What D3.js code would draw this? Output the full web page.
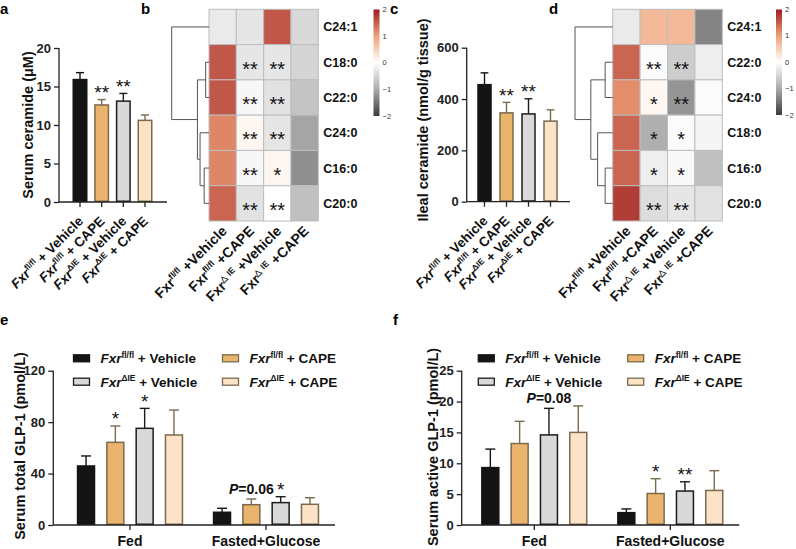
<!DOCTYPE html>
<html><head><meta charset="utf-8">
<script src="https://cdn.jsdelivr.net/npm/d3@7"></script>
<style>body{margin:0;background:#fff} text{font-family:"Liberation Sans",Arial,sans-serif}</style>
</head><body><svg id="chart" width="796" height="549"></svg>
<script>
// ---------- data ----------
const groups = ["Fxr fl/fl + Vehicle","Fxr fl/fl + CAPE","Fxr dIE + Vehicle","Fxr dIE + CAPE"];
const groupSup = ["fl/fl","fl/fl","\u0394IE","\u0394IE"];
const groupSuffix = [" + Vehicle"," + CAPE"," + Vehicle"," + CAPE"];
const heatSup = ["fl/fl","fl/fl","\u25B3 IE","\u25B3 IE"];
const heatSuffix = [" +Vehicle"," +CAPE"," +Vehicle"," +CAPE"];

const serumCeramide = [15.9, 12.6, 13.1, 10.6];
const serumCeramideErr = [16.8, 13.3, 14.1, 11.3];
const serumCeramideSig = ["", "**", "**", ""];
const serumTicks = [0, 5, 10, 15, 20];

const ilealCeramide = [456, 346, 342, 314];
const ilealCeramideErr = [502, 387, 401, 358];
const ilealCeramideSig = ["", "**", "**", ""];
const ilealTicks = [0, 200, 400, 600];

const rowsB = ["C24:1","C18:0","C22:0","C24:0","C16:0","C20:0"];
const heatB = [
  [-0.25, -0.3, 1.55, -0.45],
  [1.55, -0.3, -0.3, -0.5],
  [1.55, -0.1, -0.35, -0.7],
  [1.2, 0.1, -0.3, -1.05],
  [1.2, -0.1, 0.1, -1.25],
  [1.45, -0.35, 0.0, -0.75]
];
const sigB = [
  ["","","",""],
  ["","**","**",""],
  ["","**","**",""],
  ["","**","**",""],
  ["","**","*",""],
  ["","**","**",""]
];
// dendrogram merges: [leftNode, rightNode, height]; leaves are row indices, merges referenced as "m#"
const treeB = [[4, 5, 0.13], [3, "m0", 0.24], [1, 2, 0.09], ["m2", "m1", 0.31], [0, "m3", 1.0]];

const rowsD = ["C24:1","C22:0","C24:0","C18:0","C16:0","C20:0"];
const heatD = [
  [-0.25, 0.75, 0.75, -1.35],
  [1.45, -0.05, -0.6, -0.2],
  [1.15, 0.1, -1.2, -0.05],
  [1.45, -0.95, -0.05, -0.12],
  [1.45, -0.2, -0.08, -0.75],
  [1.75, -0.4, -0.3, -0.35]
];
const sigD = [
  ["","","",""],
  ["","**","**",""],
  ["","*","**",""],
  ["","*","*",""],
  ["","*","*",""],
  ["","**","**",""]
];
const treeD = [[4, 5, 0.2], [3, "m0", 0.4], [1, 2, 0.2], ["m2", "m1", 0.58], [0, "m3", 1.0]];

const colorTicks = [2, 1, 0, -1, -2];

const conditions = ["Fed", "Fasted+Glucose"];
const totalGLP1Fed = [45.9, 64.3, 75.2, 70.0];
const totalGLP1FedErr = [53.7, 77.0, 90.7, 89.4];
const totalGLP1Fasted = [9.9, 15.8, 17.4, 16.1];
const totalGLP1FastedErr = [13.0, 20.2, 22.0, 21.2];
const totalGLP1FedSig = ["", "*", "*", ""];
const totalGLP1FastedSig = ["", "P=0.06", "*", ""];
const totalTicks = [0, 40, 80, 120];

const activeGLP1Fed = [9.3, 13.2, 14.6, 15.0];
const activeGLP1FedErr = [12.3, 16.8, 18.9, 19.3];
const activeGLP1Fasted = [2.0, 5.1, 5.5, 5.6];
const activeGLP1FastedErr = [2.6, 7.5, 7.0, 8.8];
const activeGLP1FedSig = ["", "", "P=0.08", ""];
const activeGLP1FastedSig = ["", "*", "**", ""];
const activeTicks = [0, 5, 10, 15, 20, 25];

// ---------- styles ----------
const fills = ["#141414", "#ebb46d", "#d8d9d8", "#fce3c7"];
const strokes = ["#141414", "#7a6a4e", "#1c1c1c", "#7a6a4e"];
const heatColor = d3.scaleLinear().domain([-2, -1, 0, 1, 2])
  .range(["#3b3b3b", "#ababab", "#ffffff", "#efa177", "#9c1b22"]).interpolate(d3.interpolateRgb);

const svg = d3.select("#chart");
svg.append("rect").attr("width", 796).attr("height", 549).attr("fill", "#fff");

function richLabel(g, x, y, rot, anchor, size, italic, sup, suffix) {
  const t = g.append("text").attr("transform", `translate(${x},${y}) rotate(${rot})`)
    .attr("text-anchor", anchor).attr("font-size", size).attr("font-weight", "bold").attr("fill", "#111");
  t.append("tspan").attr("font-style", italic ? "italic" : "normal").text("Fxr");
  t.append("tspan").attr("font-size", size * 0.62).attr("dy", -size * 0.4).text(sup);
  t.append("tspan").attr("dy", size * 0.4).text(suffix);
  return t;
}

function panelLabel(x, y, s) {
  svg.append("text").attr("x", x).attr("y", y).attr("font-size", 15).attr("font-weight", "bold").text(s);
}

function yAxis(g, scale, xPos, ticks) {
  const ax = g.append("g").attr("transform", `translate(${xPos},0)`)
    .call(d3.axisLeft(scale).tickValues(ticks).tickSize(5).tickPadding(3));
  ax.select(".domain").remove();
  ax.selectAll(".tick line").attr("stroke", "#222").attr("stroke-width", 1.3);
  ax.selectAll(".tick text").attr("font-size", 13).attr("font-weight", "bold").attr("fill", "#222")
    .style("font-family", '"Liberation Sans",Arial,sans-serif');
  g.append("line").attr("x1", xPos).attr("x2", xPos).attr("y1", scale.range()[1]).attr("y2", scale.range()[0])
    .attr("stroke", "#222").attr("stroke-width", 1.3);
}

function yTitle(x, y, s) {
  svg.append("text").attr("transform", `translate(${x},${y}) rotate(-90)`).attr("text-anchor", "middle")
    .attr("font-size", 14.5).attr("font-weight", "bold").attr("fill", "#111").text(s);
}

function drawBars(g, xs, y, bw, vals, errs, sigs) {
  vals.forEach((v, i) => {
    const cx = xs[i];
    g.append("line").attr("x1", cx).attr("x2", cx).attr("y1", y(v)).attr("y2", y(errs[i]))
      .attr("stroke", strokes[i]).attr("stroke-width", 1.4);
    g.append("line").attr("x1", cx - bw * 0.27).attr("x2", cx + bw * 0.27).attr("y1", y(errs[i])).attr("y2", y(errs[i]))
      .attr("stroke", strokes[i]).attr("stroke-width", 1.4);
    g.append("rect").attr("x", cx - bw / 2 + 0.75).attr("y", y(v)).attr("width", bw - 1.5)
      .attr("height", y(0) - y(v) - 0.75).attr("fill", fills[i]).attr("stroke", strokes[i]).attr("stroke-width", 1.5);
    const s = sigs[i];
    if (s) {
      if (s.startsWith("P")) {
        const t = g.append("text").attr("x", cx).attr("y", y(errs[i]) - 5).attr("text-anchor", "middle")
          .attr("font-size", 14).attr("font-weight", "bold").attr("fill", "#111");
        t.append("tspan").attr("font-style", "italic").text("P");
        t.append("tspan").text(s.slice(1));
      } else {
        g.append("text").attr("x", cx).attr("y", y(errs[i]) - 0.5).attr("text-anchor", "middle")
          .attr("font-size", 19).attr("fill", "#111").text(s);
      }
    }
  });
}

// ---------- panel a / c (simple bars) ----------
function simplePanel(cfg) {
  const g = svg.append("g");
  const y = d3.scaleLinear().domain(cfg.domain).range([cfg.y0, cfg.y1]);
  const x = d3.scalePoint().domain(groups).range(cfg.xr);
  const xs = groups.map(d => x(d));
  drawBars(g, xs, y, cfg.bw, cfg.vals, cfg.errs, cfg.sigs);
  yAxis(g, y, cfg.ax, cfg.ticks);
  g.append("line").attr("x1", cfg.ax).attr("x2", cfg.xEnd).attr("y1", cfg.y0).attr("y2", cfg.y0)
    .attr("stroke", "#222").attr("stroke-width", 1.3);
  xs.forEach((cx, i) => {
    g.append("line").attr("x1", cx).attr("x2", cx).attr("y1", cfg.y0).attr("y2", cfg.y0 + 5)
      .attr("stroke", "#222").attr("stroke-width", 1.3);
    richLabel(g, cx + 4, cfg.y0 + 20, -45, "end", 13.5, true, groupSup[i], groupSuffix[i]);
  });
}

simplePanel({domain: [0, 20], y0: 202, y1: 48, xr: [80, 145], bw: 15, ax: 59, xEnd: 167,
  vals: serumCeramide, errs: serumCeramideErr, sigs: serumCeramideSig, ticks: serumTicks});
yTitle(33, 125, "Serum ceramide (\u03BCM)");

simplePanel({domain: [0, 600], y0: 201.7, y1: 47.7, xr: [484.5, 550.5], bw: 14.5, ax: 466.7, xEnd: 570,
  vals: ilealCeramide, errs: ilealCeramideErr, sigs: ilealCeramideSig, ticks: ilealTicks});
yTitle(428, 120, "Ileal ceramide (nmol/g tissue)");

// ---------- heatmaps ----------
function heatPanel(cfg) {
  const g = svg.append("g");
  const x = d3.scaleBand().domain(d3.range(4)).range([cfg.left, cfg.right]);
  const y = d3.scaleBand().domain(d3.range(cfg.rows.length)).range([cfg.top, cfg.bottom]);
  cfg.vals.forEach((row, r) => row.forEach((v, c) => {
    g.append("rect").attr("x", x(c)).attr("y", y(r)).attr("width", x.bandwidth()).attr("height", y.bandwidth())
      .attr("fill", heatColor(v)).attr("stroke", "#bdbdbd").attr("stroke-width", 1);
    const s = cfg.sigs[r][c];
    if (s) g.append("text").attr("x", x(c) + x.bandwidth() / 2).attr("y", y(r) + y.bandwidth() / 2 + 13.5)
      .attr("text-anchor", "middle").attr("font-size", 20).attr("fill", "#111").text(s);
  }));
  cfg.rows.forEach((rname, r) => {
    g.append("text").attr("x", cfg.right + 5).attr("y", y(r) + y.bandwidth() / 2 + 4.5)
      .attr("font-size", 12.5).attr("font-weight", "bold").attr("fill", "#111").text(rname);
  });
  d3.range(4).forEach(c => {
    richLabel(g, x(c) + x.bandwidth() / 2 + 5, cfg.bottom + 11, -45, "end", 14, false, heatSup[c], heatSuffix[c]);
  });
  // dendrogram
  const hx = d3.scaleLinear().domain([0, 1]).range([cfg.left, cfg.treeLeft]);
  const nodes = {};
  const pos = k => (typeof k === "number") ? {x: cfg.left, y: y(k) + y.bandwidth() / 2} : nodes[k];
  cfg.tree.forEach((m, i) => {
    const a = pos(m[0]), b = pos(m[1]);
    const nx = hx(m[2]);
    const path = d3.path();
    path.moveTo(a.x, a.y); path.lineTo(nx, a.y); path.lineTo(nx, b.y); path.lineTo(b.x, b.y);
    g.append("path").attr("d", path.toString()).attr("fill", "none").attr("stroke", "#555").attr("stroke-width", 1);
    nodes["m" + i] = {x: nx, y: (a.y + b.y) / 2};
  });
  // colorbar
  const cb = d3.scaleLinear().domain([-2, 2]).range([cfg.cbBottom, cfg.cbTop]);
  const gid = "grad" + cfg.id;
  const grad = svg.append("defs").append("linearGradient").attr("id", gid)
    .attr("x1", 0).attr("x2", 0).attr("y1", 1).attr("y2", 0);
  d3.range(-2, 2.01, 0.25).forEach(v => grad.append("stop").attr("offset", (v + 2) / 4).attr("stop-color", heatColor(v)));
  g.append("rect").attr("x", cfg.cbX).attr("y", cfg.cbTop).attr("width", 6).attr("height", cfg.cbBottom - cfg.cbTop)
    .attr("fill", `url(#${gid})`);
  colorTicks.forEach(v => {
    g.append("text").attr("x", cfg.cbX + 9).attr("y", cb(v) + 2.5).attr("font-size", 7.5).attr("fill", "#333")
      .text(v < 0 ? "\u2212" + Math.abs(v) : v);
  });
}

heatPanel({id: "b", left: 209, right: 318.3, top: 9.3, bottom: 221, rows: rowsB, vals: heatB, sigs: sigB,
  tree: treeB, treeLeft: 171.7, cbX: 373.5, cbTop: 9.5, cbBottom: 116});
heatPanel({id: "d", left: 612.7, right: 722.3, top: 9.3, bottom: 221, rows: rowsD, vals: heatD, sigs: sigD,
  tree: treeD, treeLeft: 575, cbX: 776, cbTop: 9.5, cbBottom: 115});

// ---------- grouped panels e / f ----------
function groupedPanel(cfg) {
  const g = svg.append("g");
  const y = d3.scaleLinear().domain(cfg.domain).range([525, 370.7]);
  const x0 = d3.scaleBand().domain(conditions).range(cfg.xr).paddingInner(0.138).paddingOuter(0.069);
  const x1 = d3.scaleBand().domain(groups).range([0, x0.bandwidth()]).paddingInner(0.37).paddingOuter(0.185);
  const bw = x1.bandwidth();
  cfg.data.forEach((set, k) => {
    const xs = groups.map(gname => x0(conditions[k]) + x1(gname) + bw / 2);
    drawBars(g, xs, y, bw, set.vals, set.errs, set.sigs);
    const cx = x0(conditions[k]) + x0.bandwidth() / 2;
    g.append("line").attr("x1", cx).attr("x2", cx).attr("y1", 525).attr("y2", 530).attr("stroke", "#222").attr("stroke-width", 1.3);
    g.append("text").attr("x", cx).attr("y", 546).attr("text-anchor", "middle").attr("font-size", 14)
      .attr("font-weight", "bold").attr("fill", "#111").text(conditions[k]);
  });
  yAxis(g, y, cfg.ax, cfg.ticks);
  g.append("line").attr("x1", cfg.ax).attr("x2", cfg.xEnd).attr("y1", 525).attr("y2", 525)
    .attr("stroke", "#222").attr("stroke-width", 1.3);
  // legend
  groups.forEach((gname, i) => {
    const col = i % 2, row = Math.floor(i / 2);
    const sx = cfg.legX[col], sy = 358.3 + row * 23.4;
    g.append("rect").attr("x", sx).attr("y", sy - 3.5).attr("width", 16).attr("height", 7)
      .attr("fill", fills[i]).attr("stroke", strokes[i]).attr("stroke-width", 1.3);
    richLabel(g, sx + 27, sy + 5, 0, "start", 13.5, true, groupSup[i], groupSuffix[i]);
  });
}

groupedPanel({domain: [0, 120], xr: [62, 334], ax: 53.3, xEnd: 335, ticks: totalTicks, legX: [73.5, 222.5],
  data: [{vals: totalGLP1Fed, errs: totalGLP1FedErr, sigs: totalGLP1FedSig},
         {vals: totalGLP1Fasted, errs: totalGLP1FastedErr, sigs: totalGLP1FastedSig}]});
yTitle(25, 446, "Serum total GLP-1 (pmol/L)");

groupedPanel({domain: [0, 25], xr: [466.3, 738.3], ax: 461.7, xEnd: 739.3, ticks: activeTicks, legX: [478.3, 627.7],
  data: [{vals: activeGLP1Fed, errs: activeGLP1FedErr, sigs: activeGLP1FedSig},
         {vals: activeGLP1Fasted, errs: activeGLP1FastedErr, sigs: activeGLP1FastedSig}]});
yTitle(438, 447, "Serum active GLP-1 (pmol/L)");

// panel labels
panelLabel(0, 14, "a");
panelLabel(141, 14, "b");
panelLabel(390, 14, "c");
panelLabel(549, 14, "d");
panelLabel(0, 325, "e");
panelLabel(393, 325, "f");
</script></body></html>
